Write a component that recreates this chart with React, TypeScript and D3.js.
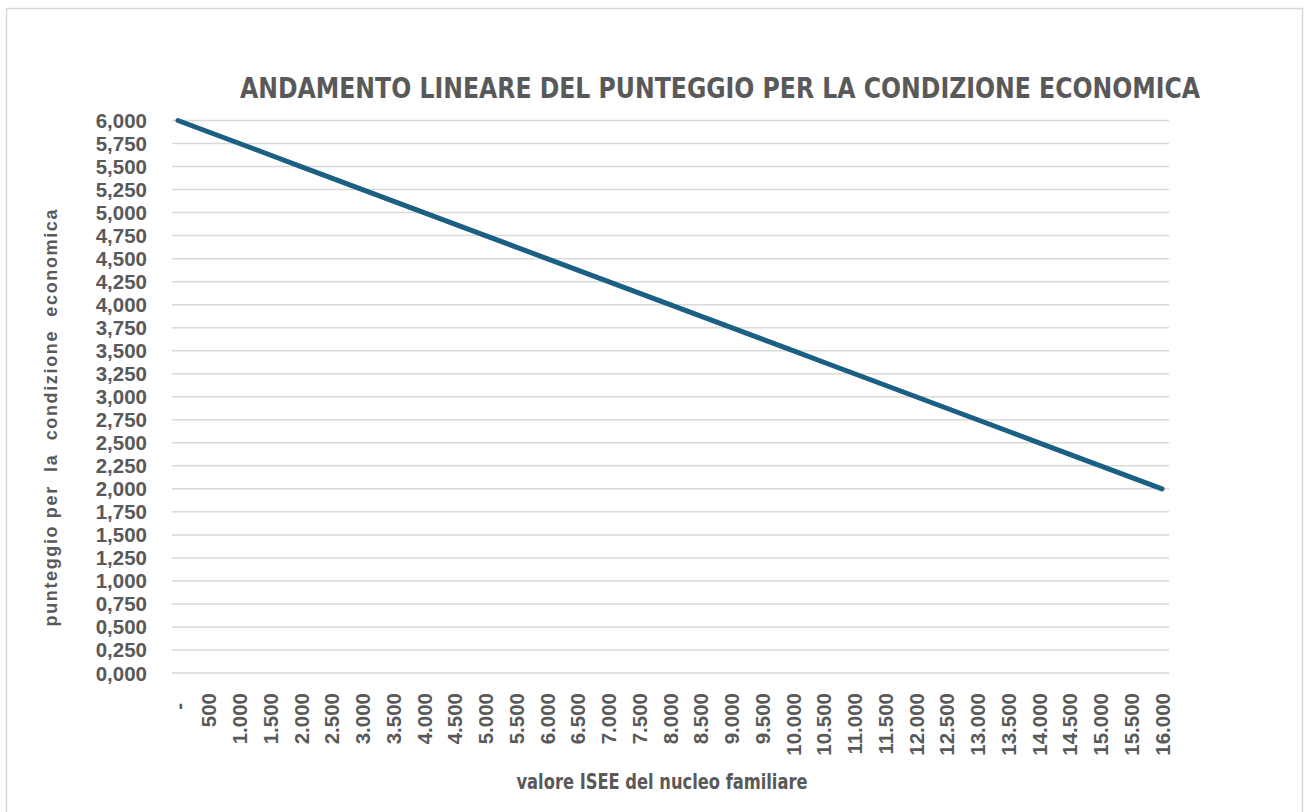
import React from "react";
import { scalePoint, scaleLinear, line, format } from "d3";

const categories = [
  "-", "500", "1.000", "1.500", "2.000", "2.500", "3.000", "3.500", "4.000",
  "4.500", "5.000", "5.500", "6.000", "6.500", "7.000", "7.500", "8.000",
  "8.500", "9.000", "9.500", "10.000", "10.500", "11.000", "11.500", "12.000",
  "12.500", "13.000", "13.500", "14.000", "14.500", "15.000", "15.500", "16.000",
];

const punteggio = [
  6.0, 5.875, 5.75, 5.625, 5.5, 5.375, 5.25, 5.125, 5.0,
  4.875, 4.75, 4.625, 4.5, 4.375, 4.25, 4.125, 4.0,
  3.875, 3.75, 3.625, 3.5, 3.375, 3.25, 3.125, 3.0,
  2.875, 2.75, 2.625, 2.5, 2.375, 2.25, 2.125, 2.0,
];

const yTicks = [
  0, 0.25, 0.5, 0.75, 1, 1.25, 1.5, 1.75, 2, 2.25, 2.5, 2.75, 3,
  3.25, 3.5, 3.75, 4, 4.25, 4.5, 4.75, 5, 5.25, 5.5, 5.75, 6,
];

const title = "ANDAMENTO LINEARE DEL PUNTEGGIO PER LA CONDIZIONE ECONOMICA";
const xTitle = "valore ISEE del nucleo familiare";
const yTitle = "punteggio per  la  condizione  economica";

const W = 1304;
const H = 812;
const textColor = "#595959";
const narrow = "'Liberation Sans Narrow', 'DejaVu Sans Condensed', 'Roboto', sans-serif";
const sans = "'Liberation Sans', Arial, sans-serif";

export default function App() {
  const x = scalePoint<string>().domain(categories).range([178, 1162]);
  const y = scaleLinear().domain([0, 6]).range([673, 120.5]);
  const fmt = (v: number) => format(".3f")(v).replace(".", ",");

  const path = line<number>()
    .x((d, i) => x(categories[i]) as number)
    .y((d) => y(d))(punteggio);

  return (
    <svg
      width={W}
      height={H}
      viewBox={`0 0 ${W} ${H}`}
      style={{ position: "absolute", left: 0, top: 0, background: "#fff" }}
    >
      <rect x={6.5} y={8.5} width={1296} height={812} fill="#fff" stroke="#d9d9d9" strokeWidth={1.5} />

      <text
        x={720}
        y={98}
        textAnchor="middle"
        fontFamily={narrow}
        fontWeight="bold"
        fontSize={28}
        fill={textColor}
        textLength={960}
        lengthAdjust="spacingAndGlyphs"
      >
        {title}
      </text>

      {/* griglia */}
      {yTicks.map((t) => (
        <line key={t} x1={172} x2={1169} y1={y(t)} y2={y(t)} stroke="#d9d9d9" strokeWidth={1.5} />
      ))}

      {/* etichette asse y */}
      {yTicks.map((t) => (
        <text
          key={"l" + t}
          x={147}
          y={y(t) + 7.5}
          textAnchor="end"
          fontFamily={sans}
          fontWeight="bold"
          fontSize={20.5}
          fill={textColor}
        >
          {fmt(t)}
        </text>
      ))}

      {/* etichette asse x */}
      {categories.map((c) => {
        const cx = (x(c) as number) + 7.5;
        const cy = c === "-" ? 703 : 693;
        return (
          <text
            key={c}
            transform={`translate(${cx},${cy}) rotate(-90)`}
            textAnchor="end"
            fontFamily={sans}
            fontWeight="bold"
            fontSize={20.5}
            fill={textColor}
          >
            {c}
          </text>
        );
      })}

      <path d={path ?? ""} fill="none" stroke="#1b5f82" strokeWidth={5} strokeLinecap="round" />

      <text
        x={662}
        y={789}
        textAnchor="middle"
        fontFamily={narrow}
        fontWeight="bold"
        fontSize={22}
        fill={textColor}
        textLength={291}
        lengthAdjust="spacingAndGlyphs"
      >
        {xTitle}
      </text>

      <text
        transform="translate(57,418) rotate(-90)"
        textAnchor="middle"
        fontFamily={sans}
        fontWeight="bold"
        fontSize={18}
        fill={textColor}
        style={{ whiteSpace: "pre" }}
        textLength={417}
        lengthAdjust="spacing"
      >
        {yTitle}
      </text>
    </svg>
  );
}
